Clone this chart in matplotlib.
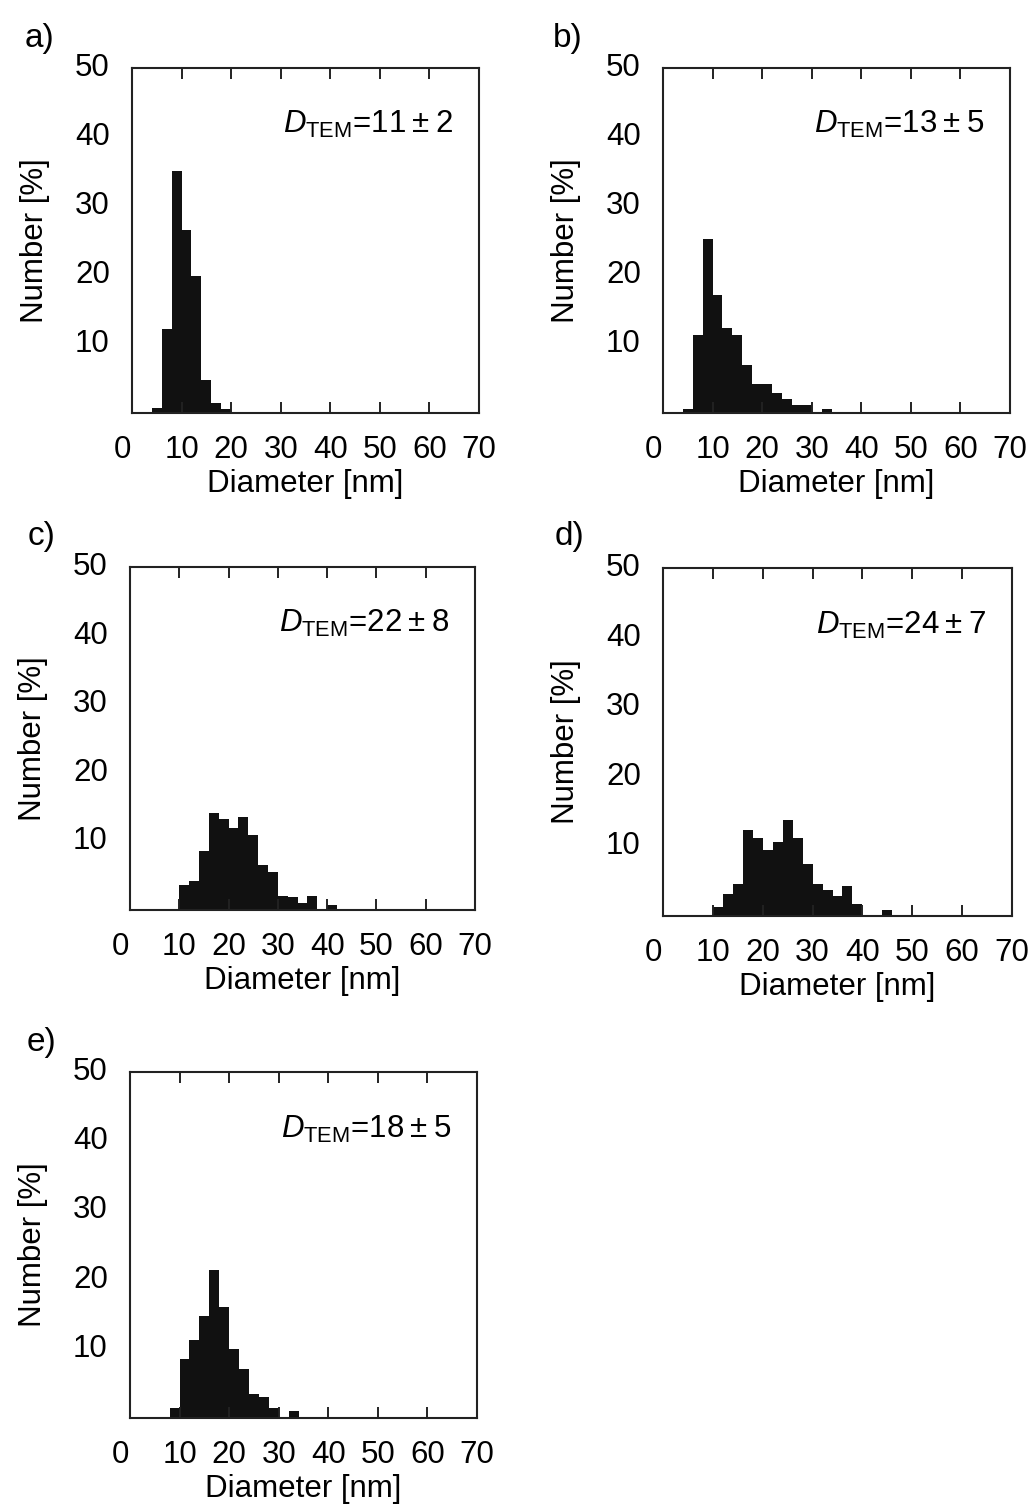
import numpy as np
import matplotlib
matplotlib.use("Agg")
import matplotlib.pyplot as plt
import matplotlib.transforms as mtransforms

plt.rcParams['font.family'] = ['Liberation Sans', 'DejaVu Sans']
plt.rcParams['mathtext.fontset'] = 'custom'
plt.rcParams['mathtext.rm'] = 'Liberation Sans'
plt.rcParams['mathtext.it'] = 'Liberation Sans:italic'

# histogram data: left bin edges (nm, 2 nm bins) and number fraction (%)
a_start = [4, 6, 8, 10, 12, 14, 16, 18]
a_vals = [0.7, 12.2, 35.1, 26.5, 19.8, 4.8, 1.45, 0.6]

b_start = [4, 6, 8, 10, 12, 14, 16, 18, 20, 22, 24, 26, 28, 30, 32]
b_vals = [0.58, 11.3, 25.2, 17.1, 12.3, 11.3, 7.0, 4.15, 4.15, 2.9, 2.0, 1.16, 1.16, 0, 0.58]

c_start = [10, 12, 14, 16, 18, 20, 22, 24, 26, 28, 30, 32, 34, 36, 38, 40]
c_vals = [3.6, 4.2, 8.6, 14.1, 13.2, 12.0, 13.5, 10.9, 6.5, 5.6, 2.1, 1.85, 1.0, 2.1, 0, 0.7]

d_start = [10, 12, 14, 16, 18, 20, 22, 24, 26, 28, 30, 32, 34, 36, 38, 40, 42, 44]
d_vals = [1.25, 3.2, 4.6, 12.4, 11.25, 9.5, 10.7, 13.8, 11.25, 7.5, 4.6, 3.8, 2.9, 4.35, 1.77, 0, 0, 0.9]

e_start = [8, 10, 12, 14, 16, 18, 20, 22, 24, 26, 28, 30, 32]
e_vals = [1.44, 8.5, 11.3, 14.8, 21.4, 16.0, 9.95, 7.07, 3.5, 3.0, 1.44, 0, 0.96]

labels = ["a)", "b)", "c)", "d)", "e)"]
d_tem = ["11", "13", "22", "24", "18"]
d_sd = ["2", "5", "8", "7", "5"]

W, H = 1035, 1506
fig = plt.figure(figsize=(W / 100, H / 100), dpi=100)

# axes boxes in pixels: left, bottom, width, height
boxes = [(132, 413, 347, 345), (663, 413, 347, 345),
         (130, 910, 345, 343), (663, 916, 349, 348),
         (130, 1418, 347, 346)]
lab_pos = [(40, 38), (568, 38), (42, 537), (570, 537), (42, 1043)]
data = [(a_start, a_vals), (b_start, b_vals), (c_start, c_vals),
        (d_start, d_vals), (e_start, e_vals)]

FS = 22.5
for i in range(5):
    l, b, w, h = boxes[i]
    ax = fig.add_axes([l / W, 1 - b / H, w / W, h / H])
    x, y = data[i]
    ax.bar(x, y, width=2, align='edge', color='#111111', edgecolor='none')
    ax.set_xlim(0, 70)
    ax.set_ylim(0, 50)
    ax.set_xticks(np.arange(0, 71, 10))
    ax.set_yticks([10, 20, 30, 40, 50])
    ax.tick_params(axis='x', direction='in', top=True, length=8, width=1.4,
                   labelsize=FS, pad=16, color='#222222')
    ax.tick_params(axis='y', length=0, labelsize=FS, pad=16)
    for s in ax.spines.values():
        s.set_linewidth(1.5)
        s.set_color('#222222')
    ax.set_xlabel("Diameter [nm]", fontsize=FS, labelpad=3)
    ax.set_ylabel("Number [%]", fontsize=FS, labelpad=18)
    # the "0" label sits a bit left of the axis, y labels a bit high
    lab0 = ax.get_xticklabels()[0]
    lab0.set_transform(lab0.get_transform() +
                       mtransforms.ScaledTranslation(-7 / 72, 0, fig.dpi_scale_trans))
    for t in ax.get_yticklabels():
        t.set_transform(t.get_transform() +
                        mtransforms.ScaledTranslation(0, 2.5 / 72, fig.dpi_scale_trans))
    ax.text(0.925, 0.835, r"$\mathit{D}_{\mathrm{TEM}}$=" + d_tem[i] + "\u2009±\u2009" + d_sd[i],
            transform=ax.transAxes, ha='right', va='center', fontsize=FS)
    fig.text(lab_pos[i][0] / W, 1 - lab_pos[i][1] / H, labels[i],
             ha='center', va='center', fontsize=24)

fig.savefig("out.png", dpi=100)
